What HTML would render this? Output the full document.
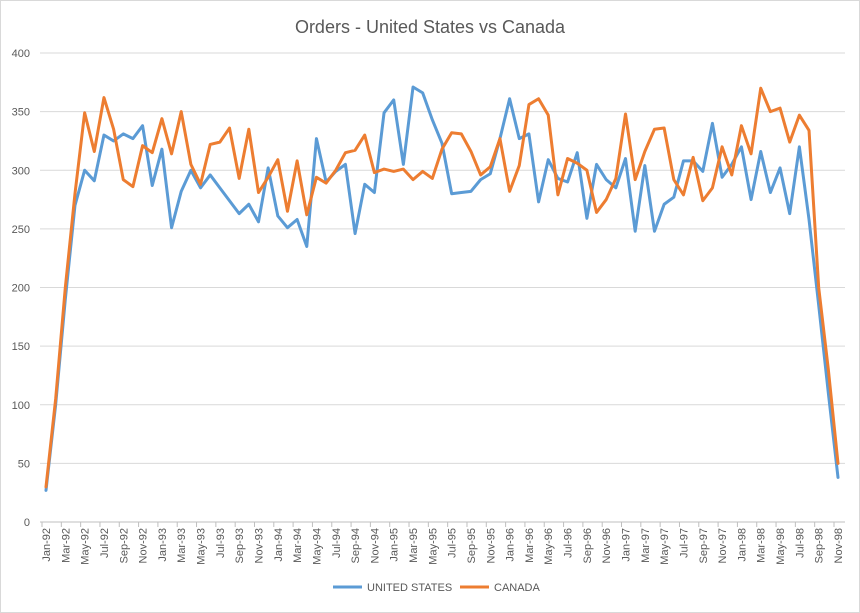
<!DOCTYPE html>
<html><head><meta charset="utf-8"><style>
body{margin:0;background:#fff;font-family:"Liberation Sans",sans-serif}
svg{display:block}
</style></head><body>
<svg width="860" height="613">
<rect x="0.5" y="0.5" width="859" height="612" fill="#fff" stroke="#d9d9d9"/>
<text x="430" y="33" text-anchor="middle" font-size="18" fill="#595959">Orders - United States vs Canada</text>
<g id="grid"></g><g id="yl"></g><g id="xl"></g><g id="lines"></g>
<g>
<line x1="333" y1="587" x2="362" y2="587" stroke="#5b9bd5" stroke-width="3"/>
<text x="367" y="591" font-size="11" fill="#595959">UNITED STATES</text>
<line x1="460" y1="587" x2="489" y2="587" stroke="#ed7d31" stroke-width="3"/>
<text x="494" y="591" font-size="11" fill="#595959">CANADA</text>
</g>
</svg>
<script>
const years=['92','93','94','95','96','97','98'];
const months=['Jan','Feb','Mar','Apr','May','Jun','Jul','Aug','Sep','Oct','Nov','Dec'];
const yTicks=[0,50,100,150,200,250,300,350,400];
const us=[27,100,190,270,300,291,330,325,331,327,338,287,
318,251,282,300,285,296,285,274,263,271,256,302,
261,251,258,235,327,290,299,305,246,288,281,349,
360,305,371,366,343,323,280,281,282,292,297,327,
361,327,331,273,309,293,290,315,259,305,292,285,
310,248,304,248,271,277,308,308,299,340,294,305,
320,275,316,281,302,263,320,258,185,110,38];
const canada=[30,105,200,280,349,316,362,335,292,286,321,315,
344,314,350,305,288,322,324,336,293,335,281,294,
309,265,308,262,294,289,300,315,317,330,298,301,
299,301,292,299,293,318,332,331,316,296,303,327,
282,304,356,361,347,279,310,306,300,264,275,293,
348,292,316,335,336,292,279,311,274,285,320,296,
338,314,370,350,353,324,347,334,200,130,50];
const cats=[];years.forEach(y=>months.forEach(m=>cats.push(m+'-'+y)));cats.length=us.length;
const NS='http://www.w3.org/2000/svg';
const x0=46,x1=838,yb=522,yt=53;
const X=i=>x0+(x1-x0)*i/(cats.length-1);
const Y=v=>yb-(yb-yt)*v/400;
function mk(t,a,p){const e=document.createElementNS(NS,t);for(const k in a)e.setAttribute(k,a[k]);p.appendChild(e);return e;}
const g=document.getElementById('grid'),yl=document.getElementById('yl'),xl=document.getElementById('xl'),ln=document.getElementById('lines');
yTicks.forEach(v=>{
const l=mk('line',{x1:40,x2:845,y1:Y(v),y2:Y(v),stroke:v===0?'#bfbfbf':'#d9d9d9','stroke-width':1},g);


const t=mk('text',{x:30,y:Y(v)+4,'text-anchor':'end','font-size':11,fill:'#595959'},yl);
t.textContent=v;


});
cats.forEach((c,i)=>{
if(i%2)return;
const tk=mk('line',{x1:X(i)-4,x2:X(i)-4,y1:yb,y2:yb+5,stroke:'#bfbfbf'},g);


const t=mk('text',{transform:`translate(${X(i)+4},${yb+6}) rotate(-90)`,'text-anchor':'end','font-size':11,fill:'#595959'},xl);
t.textContent=c;


});
[[us,'#5b9bd5','line-united-states'],[canada,'#ed7d31','line-canada']].forEach(([d,c,n])=>{
const p=mk('polyline',{points:d.map((v,i)=>X(i)+','+Y(v)).join(' '),fill:'none',stroke:c,'stroke-width':3,'stroke-linejoin':'round','stroke-linecap':'round'},ln);


});
</script>
</body></html>
